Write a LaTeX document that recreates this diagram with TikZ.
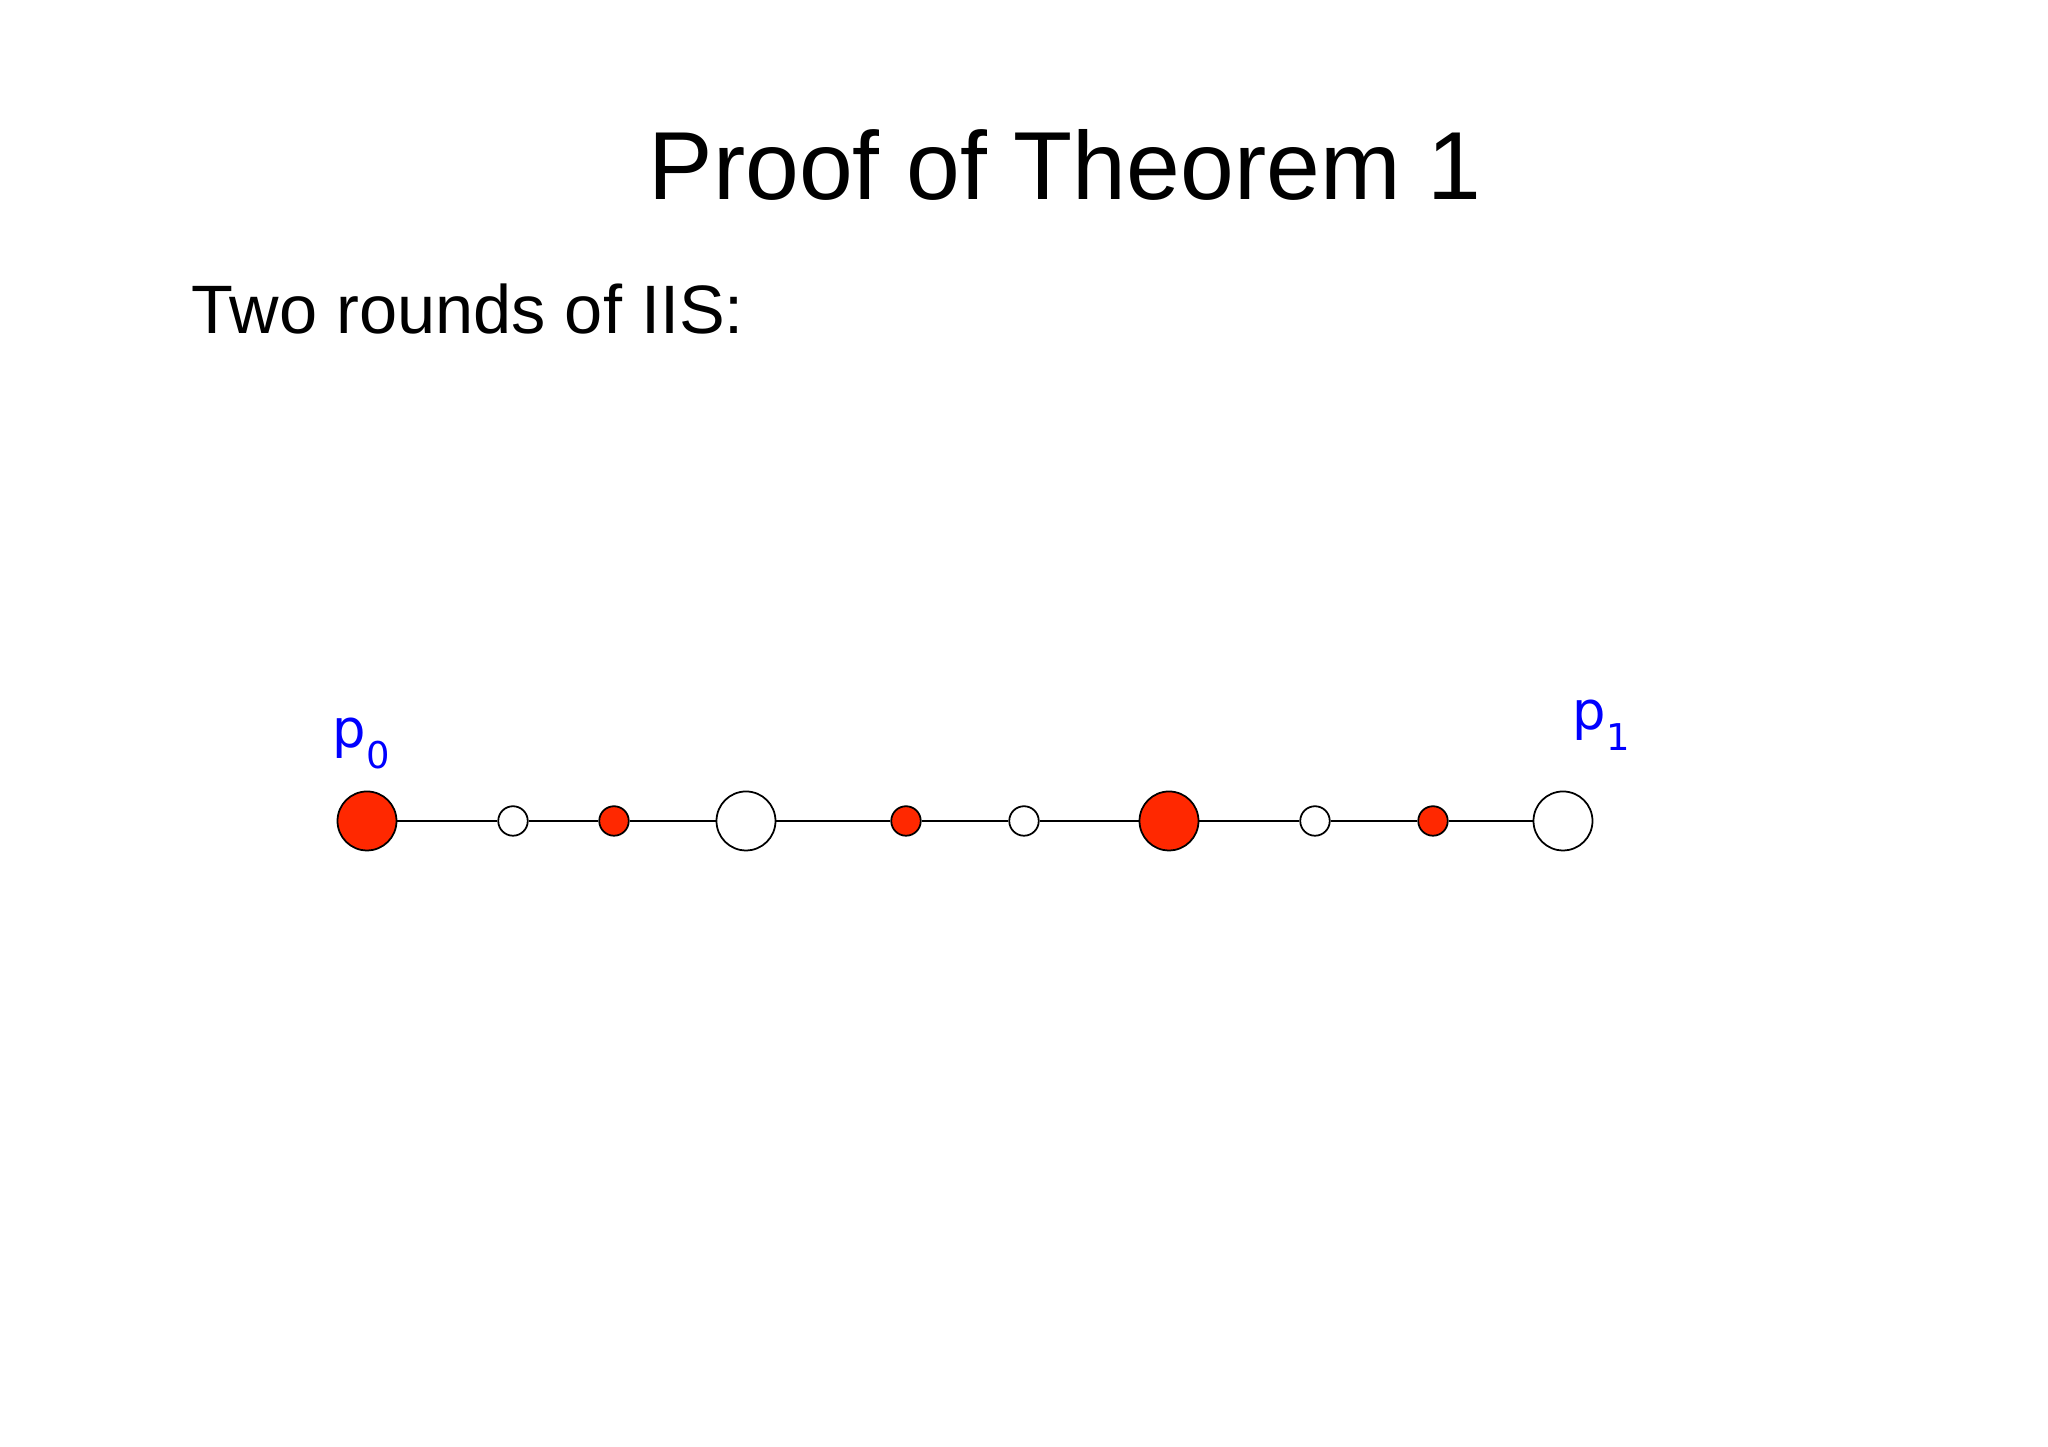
\documentclass[tikz,border=0pt]{standalone}
\usepackage{fontspec}
\setmainfont{Liberation Sans}
\newfontfamily\labelfont{DejaVu Sans}
\definecolor{fillred}{RGB}{255,40,0}
\newcommand{\proc}[1]{p\raisebox{-0.21cm}{\fontsize{10.5}{12}\selectfont #1}}
\begin{document}
\begin{tikzpicture}[dot/.style={circle,draw,line width=0.5pt,inner sep=0pt},
  bigdot/.style={dot,minimum size=0.59cm},
  smalldot/.style={dot,minimum size=0.295cm},
  lbl/.style={anchor=base west,inner sep=0pt,text=blue,font=\labelfont\fontsize{15}{18}\selectfont}]
\useasboundingbox (0,0) rectangle (20.48,14.47);
\node[anchor=base,inner sep=0pt,font=\fontsize{27.5}{33}\selectfont] (titre) at (10.65,12.47) {Proof of Theorem 1};
\node[anchor=base west,inner sep=0pt,font=\fontsize{19.5}{23}\selectfont] (rounds) at (1.91,11.13) {Two rounds of IIS:};
\foreach \i/\x/\s/\f in {0/3.67/bigdot/fillred, 1/5.13/smalldot/white, 2/6.14/smalldot/fillred,
  3/7.46/bigdot/white, 4/9.06/smalldot/fillred, 5/10.24/smalldot/white, 6/11.69/bigdot/fillred,
  7/13.15/smalldot/white, 8/14.33/smalldot/fillred, 9/15.63/bigdot/white}
  \node[\s,fill=\f] (v\i) at (\x,6.26) {};
\foreach \i in {1,...,9}
  {\pgfmathsetmacro\j{int(\i - 1)}
  \draw[line width=0.5pt] (v\j) -- (v\i);};
\node[lbl] (p0) at (3.32,6.99) {\proc{0}};
\node[lbl] (p1) at (15.72,7.17) {\proc{1}};
\end{tikzpicture}
\end{document}
